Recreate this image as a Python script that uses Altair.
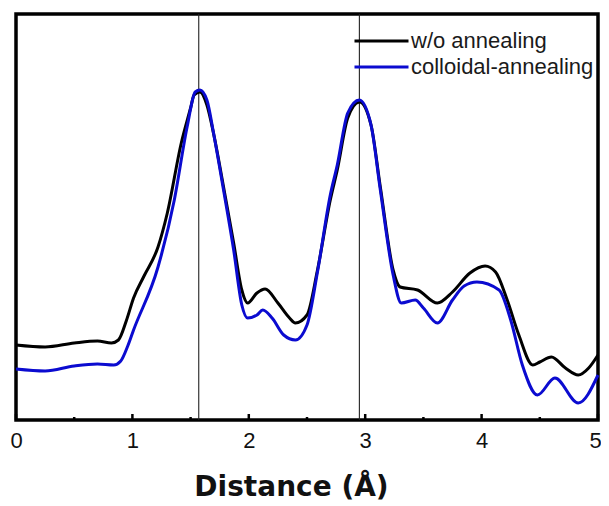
import altair as alt
import pandas as pd

# ---- data ----
series_names = ["w/o annealing", "colloidal-annealing"]
series_colors = ["#000000", "#0b0bd0"]

black_x = [0.00, 0.25, 0.50, 0.70, 0.82, 0.88, 0.95, 1.01, 1.10, 1.22, 1.30, 1.42,
           1.50, 1.53, 1.58, 1.64, 1.70, 1.78, 1.87, 1.94, 1.99, 2.07, 2.14, 2.25,
           2.35, 2.40, 2.50, 2.59, 2.70, 2.76, 2.85, 2.95, 3.05, 3.13, 3.24, 3.30,
           3.45, 3.62, 3.75, 3.90, 4.03, 4.12, 4.22, 4.32, 4.44, 4.50, 4.60, 4.72,
           4.83, 4.92, 5.00]
black_y = [0.73, 0.71, 0.75, 0.77, 0.75, 0.78, 0.98, 1.20, 1.42, 1.71, 2.05, 2.75,
           3.10, 3.23, 3.26, 3.13, 2.83, 2.33, 1.75, 1.28, 1.15, 1.25, 1.29, 1.15,
           1.00, 0.95, 1.03, 1.48, 2.18, 2.48, 3.00, 3.16, 2.93, 2.31, 1.48, 1.31,
           1.28, 1.15, 1.26, 1.45, 1.52, 1.46, 1.18, 0.83, 0.53, 0.56, 0.61, 0.50,
           0.43, 0.50, 0.63]

blue_x = [0.00, 0.25, 0.50, 0.70, 0.84, 0.90, 0.96, 1.01, 1.22, 1.36, 1.47, 1.54,
          1.58, 1.64, 1.70, 1.78, 1.87, 1.94, 1.99, 2.07, 2.12, 2.20, 2.30, 2.40,
          2.50, 2.59, 2.70, 2.76, 2.85, 2.95, 3.05, 3.13, 3.24, 3.31, 3.43, 3.50,
          3.62, 3.75, 3.85, 3.96, 4.15, 4.25, 4.35, 4.48, 4.63, 4.83, 5.00]
blue_y = [0.49, 0.47, 0.52, 0.54, 0.53, 0.57, 0.72, 0.88, 1.51, 2.18, 2.91, 3.26,
          3.28, 3.18, 2.83, 2.30, 1.68, 1.13, 1.00, 1.03, 1.08, 1.00, 0.83, 0.78,
          0.93, 1.46, 2.23, 2.53, 3.05, 3.18, 2.93, 2.28, 1.43, 1.15, 1.18, 1.10,
          0.95, 1.18, 1.32, 1.36, 1.28, 0.98, 0.53, 0.23, 0.40, 0.15, 0.43]

ref_lines = [1.57, 2.95]
major_ticks = [0, 1, 2, 3, 4, 5]
minor_ticks = [0.5, 1.5, 2.5, 3.5, 4.5]

# ---- tables ----
df_black = pd.DataFrame({"r": black_x, "ft": black_y, "sample": series_names[0]})
df_blue = pd.DataFrame({"r": blue_x, "ft": blue_y, "sample": series_names[1]})
df_ref = pd.DataFrame({"r": ref_lines})
df_major = pd.DataFrame({"r": major_ticks})
df_minor = pd.DataFrame({"r": minor_ticks})

W, H = 582, 406

xs = alt.Scale(domain=[0, 5], nice=False, zero=False)
ys = alt.Scale(domain=[-0.02, 4.04], nice=False, zero=False)

x_axis = alt.Axis(
    values=major_ticks, format="d", ticks=False, tickSize=0, domain=False, grid=False,
    labelFont="Liberation Sans", labelFontSize=22, labelColor="#111111",
    labelBaseline="alphabetic", labelPadding=27, labelFlush=False, labelOverlap=False,
    labelOffset=alt.ConditionalAxisNumber(
        condition={"test": "datum.value == 5", "value": -3}, value=0
    ),
    title="Distance (Å)", titleFont="DejaVu Sans", titleFontSize=28,
    titleFontWeight="bold", titleColor="#111111",
    titleX=275, titleY=75, titleBaseline="alphabetic", titleAlign="center",
)

X = alt.X("r:Q", scale=xs, axis=x_axis)

color = alt.Color(
    "sample:N",
    scale=alt.Scale(domain=series_names, range=series_colors),
    legend=alt.Legend(
        title=None, orient="none", legendX=337, legendY=14,
        symbolType="stroke", symbolSize=2916, symbolStrokeWidth=3,
        labelFont="Liberation Sans", labelFontSize=22, labelColor="#1a1a1a",
        labelOffset=1, labelLimit=0, clipHeight=26, rowPadding=0, padding=0,
    ),
)

refs = alt.Chart(df_ref).mark_rule(color="#222222", strokeWidth=1.1).encode(x=X)

major = alt.Chart(df_major).mark_rule(color="#000000", strokeWidth=2.5).encode(
    x=X, y=alt.value(H), y2=alt.value(H - 6)
)
minor = alt.Chart(df_minor).mark_rule(color="#000000", strokeWidth=2.5).encode(
    x=X, y=alt.value(H), y2=alt.value(H - 3)
)

line_black = alt.Chart(df_black).mark_line(strokeWidth=3, interpolate="monotone").encode(
    x=X, y=alt.Y("ft:Q", scale=ys, axis=None), color=color
)
line_blue = alt.Chart(df_blue).mark_line(strokeWidth=3, interpolate="monotone").encode(
    x=X, y=alt.Y("ft:Q", scale=ys, axis=None), color=color
)

chart = (
    alt.layer(refs, major, minor, line_black, line_blue)
    .properties(
        width=W, height=H,
        autosize=alt.AutoSizeParams(type="none"),
        padding={"left": 8, "top": 6, "right": 3, "bottom": 84},
        background="white",
    )
    .configure_view(stroke="#000000", strokeWidth=3.5)
)

chart.save("out.html", embed_options={"renderer": "svg", "actions": False})
